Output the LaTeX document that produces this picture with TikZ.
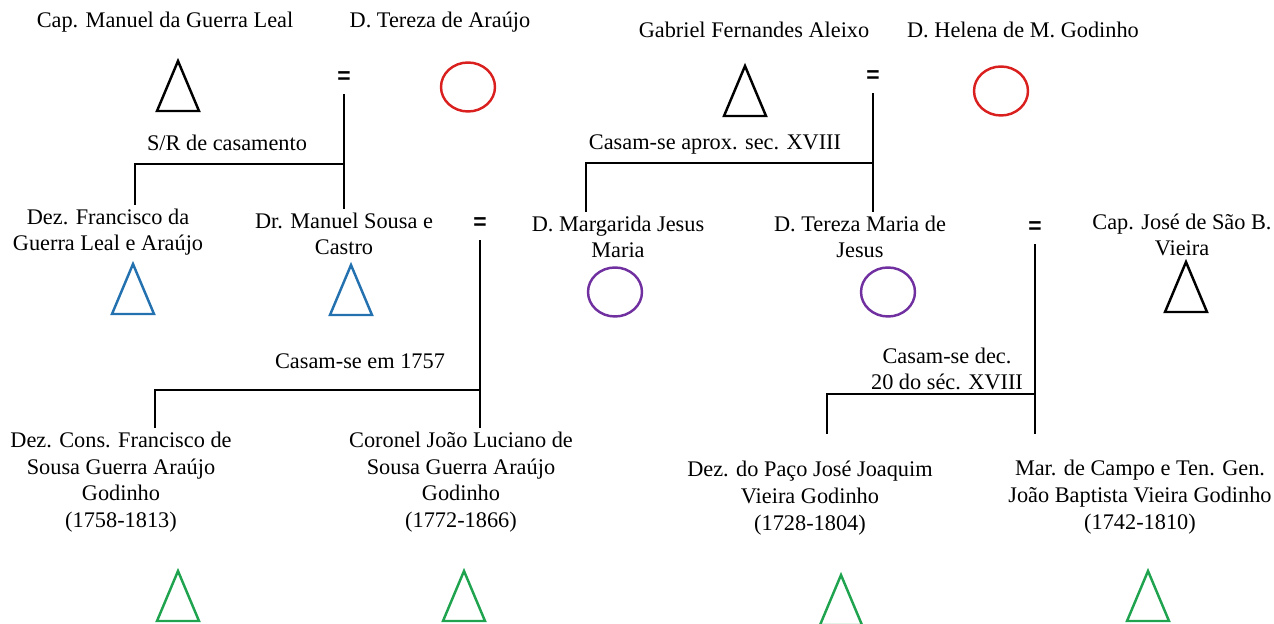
\documentclass[tikz,border=0pt]{standalone}
\usepackage{fontspec}
\setmainfont{Liberation Serif}
\newfontfamily\igualfont{Liberation Sans}
\usepackage{tikz}
\usetikzlibrary{shapes.geometric}
\definecolor{vermelho}{HTML}{D9201E}
\definecolor{azul}{HTML}{2471B0}
\definecolor{roxo}{HTML}{7030A0}
\definecolor{verde}{HTML}{1FA34F}

\begin{document}
\begin{tikzpicture}[x=0.02cm, y=-0.02cm,
		nome/.style={align=center, inner sep=2pt, font=\fontsize{12.7}{15.2}\selectfont},
		casal/.style={inner sep=0pt, minimum height=0.64cm, font=\igualfont\bfseries\fontsize{13}{13}\selectfont},
		ligacao/.style={line width=0.65pt},
		mulher/.style={ellipse, line width=1.4pt, inner sep=0pt, minimum width=1.08cm, minimum height=0.98cm},
		homem/.pic={\draw[pic actions] (-21,25) -- (0,-25) -- (21,25) -- cycle;},
		simbolo/.style={line width=1.4pt, line join=miter}]
							\useasboundingbox (0,0) rectangle (1274,624);
							
							\node[nome] (manuel) at (165,22) {Cap. Manuel da Guerra Leal};
							\node[nome] (tereza) at (440,22) {D. Tereza de Araújo};
							\node[nome] (gabriel) at (754,30) {Gabriel Fernandes Aleixo};
							\node[nome] (helena) at (1023,30) {D. Helena de M. Godinho};
							\pic[simbolo, draw=black] at (178,86) {homem};
							\node[mulher, draw=vermelho] (tereza-s) at (468,87) {};
							\pic[simbolo, draw=black] at (745,91) {homem};
							\node[mulher, draw=vermelho] (helena-s) at (1001,91) {};
							\node[casal] (eqA) at (344,78) {=};
							\node[casal] (eqB) at (873,77) {=};
							
							\node[nome] (francisco) at (108,232) {Dez. Francisco da\\Guerra Leal e Araújo};
							\node[nome] (drmanuel) at (344,234) {Dr. Manuel Sousa e\\Castro};
							\node[nome] (margarida) at (618,237) {D. Margarida Jesus\\Maria};
							\node[nome] (terezam) at (860,237) {D. Tereza Maria de\\Jesus};
							\node[nome] (josesb) at (1182,235) {Cap. José de São B.\\Vieira};
							\pic[simbolo, draw=azul] at (133,289) {homem};
							\pic[simbolo, draw=azul] at (351,290) {homem};
							\node[mulher, draw=roxo] (margarida-s) at (615,292) {};
							\node[mulher, draw=roxo] (terezam-s) at (888,292) {};
							\pic[simbolo, draw=black] at (1186,287) {homem};
							\node[casal] (eqC) at (480,224) {=};
							\node[casal] (eqD) at (1035,228) {=};
							
							\node[nome] (franciscoc) at (121,482) {Dez. Cons. Francisco de\\Sousa Guerra Araújo\\Godinho\\(1758-1813)};
							\node[nome] (coronel) at (461,482) {Coronel João Luciano de\\Sousa Guerra Araújo\\Godinho\\(1772-1866)};
							\node[nome] (josej) at (810,498) {Dez. do Paço José Joaquim\\Vieira Godinho\\(1728-1804)};
							\node[nome] (joaob) at (1140,497) {Mar. de Campo e Ten. Gen.\\João Baptista Vieira Godinho\\(1742-1810)};
							\pic[simbolo, draw=verde] at (178,596) {homem};
							\pic[simbolo, draw=verde] at (464,596) {homem};
							\pic[simbolo, draw=verde] at (841,600) {homem};
							\pic[simbolo, draw=verde] at (1148,596) {homem};
							
							\coordinate (jA) at (135,164);
							\coordinate (jB) at (586,163);
							\coordinate (jC) at (155,390);
							\coordinate (jD) at (827,394);
							\coordinate (fimD) at (827,434);
							\draw[ligacao] (eqA.south) -- (eqA.south |- drmanuel.north);
							\draw[ligacao] (eqA.south |- jA) -- (jA) -- (jA |- francisco.north);
							\draw[ligacao] (eqB.south) -- (eqB.south |- terezam.north);
							\draw[ligacao] (eqB.south |- jB) -- (jB) -- (jB |- margarida.north);
							\draw[ligacao] (eqC.south) -- (eqC.south |- coronel.north);
							\draw[ligacao] (eqC.south |- jC) -- (jC) -- (jC |- franciscoc.north);
							\draw[ligacao] (eqD.south) -- (eqD.south |- fimD);
							\draw[ligacao] (eqD.south |- jD) -- (jD) -- (fimD);
							
							\node[nome] (lblA) at (227,143) {S/R de casamento};
							\node[nome] (lblB) at (715,144) {Casam-se aprox. sec. XVIII};
							\node[nome] (lblC) at (360,361) {Casam-se em 1757};
							\node[nome] (lblD) at (947,369) {Casam-se dec.\\20 do séc. XVIII};
						\end{tikzpicture}
\end{document}
